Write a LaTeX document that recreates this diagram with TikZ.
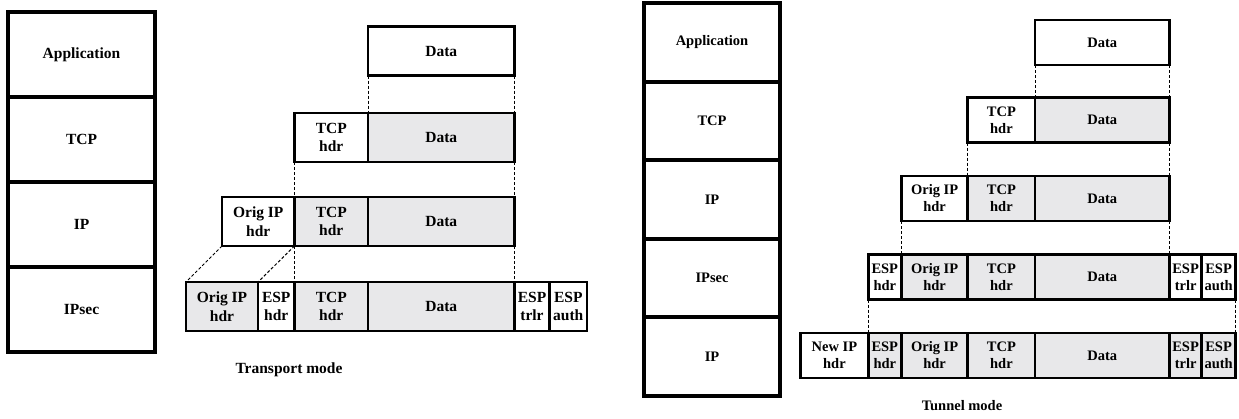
\documentclass[tikz,border=0pt]{standalone}
\usepackage{fontspec}
\setmainfont{Liberation Serif}
\definecolor{cellgray}{RGB}{232,232,234}
\begin{document}
\begin{tikzpicture}[x=1pt,y=-1pt]
      \tikzstyle{layer}=[draw,line width=4pt,inner sep=0pt,outer sep=0pt,align=center]
      \tikzstyle{cell}=[draw,line width=2.8pt,inner sep=0pt,outer sep=0pt,align=center,fill=white]
      \tikzstyle{shade}=[cell,fill=cellgray]
      \tikzstyle{tfont}=[font=\fontsize{15.5}{18.5}\selectfont\bfseries]
      \tikzstyle{ufont}=[font=\fontsize{14.5}{17}\selectfont\bfseries]
      \tikzstyle{trow}=[tfont,minimum height=49pt]
      \tikzstyle{urow}=[ufont,minimum height=45pt]
      \tikzstyle{link}=[draw,line width=1pt,dash pattern=on 3pt off 2pt]
      \useasboundingbox (0,0) rectangle (1239,418);
      % transport mode: protocol stack
      \node[layer,tfont,minimum width=147pt,minimum height=85pt] (tApp) at (81.5,54.5) {Application};
      \node[layer,tfont,minimum width=147pt,minimum height=85pt] (tTcp) at (81.5,139.5) {TCP};
      \node[layer,tfont,minimum width=147pt,minimum height=85pt] (tIp) at (81.5,224.5) {IP};
      \node[layer,tfont,minimum width=147pt,minimum height=85pt] (tSec) at (81.5,309.5) {IPsec};
      % transport mode: packets
      \node[cell,trow,minimum width=146.5pt] (tData1) at (441.25,51) {Data};
      \node[cell,trow,minimum width=73.5pt] (tTcp2) at (331.25,137.5) {TCP\\hdr};
      \node[shade,trow,minimum width=146.5pt] (tData2) at (441.25,137.5) {Data};
      \node[cell,trow,minimum width=72.5pt] (tOrig3) at (258.25,221.5) {Orig IP\\hdr};
      \node[shade,trow,minimum width=73.5pt] (tTcp3) at (331.25,221.5) {TCP\\hdr};
      \node[shade,trow,minimum width=146.5pt] (tData3) at (441.25,221.5) {Data};
      \node[shade,trow,minimum width=72pt] (tOrig4) at (222,306.5) {Orig IP\\hdr};
      \node[cell,trow,minimum width=36.5pt] (tEsp4) at (276.25,306.5) {ESP\\hdr};
      \node[shade,trow,minimum width=73.5pt] (tTcp4) at (331.25,306.5) {TCP\\hdr};
      \node[shade,trow,minimum width=146.5pt] (tData4) at (441.25,306.5) {Data};
      \node[cell,trow,minimum width=35pt] (tTrl4) at (532,306.5) {ESP\\trlr};
      \node[cell,trow,minimum width=37.5pt] (tAuth4) at (568.25,306.5) {ESP\\auth};
      \node[tfont] (tCap) at (289,370) {Transport mode};
      \path[link] (tData1.south west) -- (tData2.north west);
      \path[link] (tData1.south east) -- (tData2.north east);
      \path[link] (tTcp2.south west) -- (tTcp3.north west);
      \path[link] (tData2.south east) -- (tData3.north east);
      \path[link] (tOrig3.south west) -- (tOrig4.north west);
      \path[link] (tOrig3.south east) -- (tEsp4.north west);
      \path[link] (tTcp3.south west) -- (tTcp4.north west);
      \path[link] (tData3.south east) -- (tData4.north east);
      % tunnel mode: protocol stack
      \node[layer,ufont,minimum width=136pt,minimum height=78.6pt] (uApp) at (712,42.3) {Application};
      \node[layer,ufont,minimum width=136pt,minimum height=78.6pt] (uTcp) at (712,120.9) {TCP};
      \node[layer,ufont,minimum width=136pt,minimum height=78.6pt] (uIp) at (712,199.5) {IP};
      \node[layer,ufont,minimum width=136pt,minimum height=78.6pt] (uSec) at (712,278.1) {IPsec};
      \node[layer,ufont,minimum width=136pt,minimum height=78.6pt] (uIp2) at (712,356.7) {IP};
      % tunnel mode: packets
      \node[cell,urow,minimum width=134.4pt] (uData1) at (1102.2,42.5) {Data};
      \node[cell,urow,minimum width=67.2pt] (uTcp2) at (1001.4,120) {TCP\\hdr};
      \node[shade,urow,minimum width=134.4pt] (uData2) at (1102.2,120) {Data};
      \node[cell,urow,minimum width=66.4pt] (uOrig3) at (934.6,198.5) {Orig IP\\hdr};
      \node[shade,urow,minimum width=67.2pt] (uTcp3) at (1001.4,198.5) {TCP\\hdr};
      \node[shade,urow,minimum width=134.4pt] (uData3) at (1102.2,198.5) {Data};
      \node[cell,urow,minimum width=33.2pt] (uEsp4) at (884.8,277) {ESP\\hdr};
      \node[shade,urow,minimum width=66.4pt] (uOrig4) at (934.6,277) {Orig IP\\hdr};
      \node[shade,urow,minimum width=67.2pt] (uTcp4) at (1001.4,277) {TCP\\hdr};
      \node[shade,urow,minimum width=134.4pt] (uData4) at (1102.2,277) {Data};
      \node[cell,urow,minimum width=32.4pt] (uTrl4) at (1185.6,277) {ESP\\trlr};
      \node[cell,urow,minimum width=33.6pt] (uAuth4) at (1218.6,277) {ESP\\auth};
      \node[cell,urow,minimum width=67.6pt] (uNew5) at (834.4,355.5) {New IP\\hdr};
      \node[shade,urow,minimum width=33.2pt] (uEsp5) at (884.8,355.5) {ESP\\hdr};
      \node[shade,urow,minimum width=66.4pt] (uOrig5) at (934.6,355.5) {Orig IP\\hdr};
      \node[shade,urow,minimum width=67.2pt] (uTcp5) at (1001.4,355.5) {TCP\\hdr};
      \node[shade,urow,minimum width=134.4pt] (uData5) at (1102.2,355.5) {Data};
      \node[shade,urow,minimum width=32.4pt] (uTrl5) at (1185.6,355.5) {ESP\\trlr};
      \node[shade,urow,minimum width=33.6pt] (uAuth5) at (1218.6,355.5) {ESP\\auth};
      \node[ufont] (uCap) at (962,406) {Tunnel mode};
      \path[link] (uData1.south west) -- (uData2.north west);
      \path[link] (uData1.south east) -- (uData2.north east);
      \path[link] (uTcp2.south west) -- (uTcp3.north west);
      \path[link] (uData2.south east) -- (uData3.north east);
      \path[link] (uOrig3.south west) -- (uOrig4.north west);
      \path[link] (uData3.south east) -- (uData4.north east);
      \path[link] (uEsp4.south west) -- (uEsp5.north west);
      \path[link] (uAuth4.south east) -- (uAuth5.north east);
    \end{tikzpicture}
\end{document}
